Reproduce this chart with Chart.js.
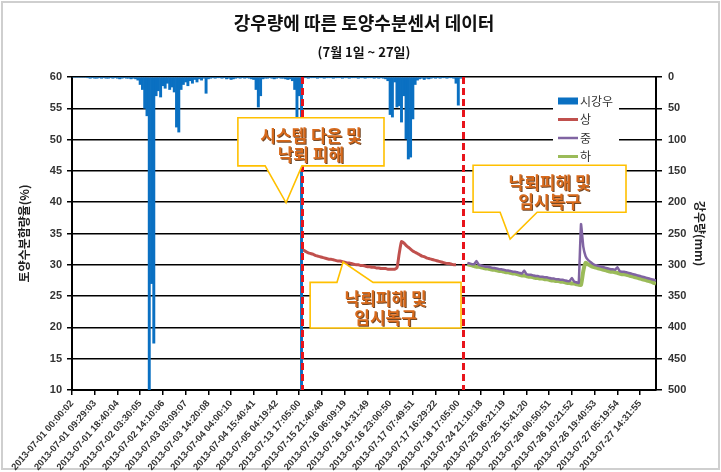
<!DOCTYPE html>
<html>
<head>
<meta charset="utf-8">
<title>강우량에 따른 토양수분센서 데이터</title>
<script src="https://cdn.jsdelivr.net/npm/chart.js@4"></script>
<style>
  html, body { margin: 0; padding: 0; background: #fff; }
  #wrap { width: 721px; height: 472px; }
</style>
</head>
<body>
<div id="wrap"><canvas id="chart" width="721" height="472"></canvas></div>
<script>
// x 축 라벨 (10 샘플마다 하나)
const tickLabels = [
  "2013-07-01 00:00:02", "2013-07-01 09:29:03", "2013-07-01 18:40:04", "2013-07-02 03:30:05",
  "2013-07-02 14:10:06", "2013-07-03 03:09:07", "2013-07-03 14:20:08", "2013-07-04 04:00:10",
  "2013-07-04 15:40:41", "2013-07-05 04:19:42", "2013-07-13 17:05:00", "2013-07-15 21:40:48",
  "2013-07-16 06:09:19", "2013-07-16 14:31:49", "2013-07-16 23:00:50", "2013-07-17 07:49:51",
  "2013-07-17 16:29:22", "2013-07-18 17:05:00", "2013-07-24 21:10:18", "2013-07-25 06:21:19",
  "2013-07-25 15:41:20", "2013-07-26 00:50:51", "2013-07-26 10:21:52", "2013-07-26 19:40:53",
  "2013-07-27 05:19:54", "2013-07-27 14:31:55"
];
const sampleCount = 257;

// 시강우 (mm), 샘플 0부터
const rainValues = [
  0, 0, 0, 0, 0, 0, 0,
  1, 2, 1, 2, 2, 1, 2, 1, 2, 2, 1, 2, 1, 2, 3, 2, 1, 2, 2, 3, 2, 3, 5,
  12, 20, 50, 62, 500, 330, 425, 30, 22, 32,
  14, 18, 10, 20, 16, 24, 80, 88, 20, 12,
  8, 14, 6, 10, 4, 8, 3, 5, 2, 26, 3,
  2, 1, 2, 1, 1, 2, 1, 3, 2, 4, 3, 2, 1, 2, 1, 2, 1, 2, 3, 4,
  20, 48, 30,
  3, 2, 2, 1, 2, 3, 2, 1, 2, 2, 3, 4, 3, 6,
  20, 64, 30,
  500, 1, 1, 2, 1, 1, 1, 2, 1, 1, 2, 1, 1, 1, 2, 1, 1, 1, 2, 1,
  1, 2, 1, 1, 1, 2, 1, 1, 2, 1, 1, 1, 2, 1, 2, 1, 2, 3,
  6, 60, 64, 8, 48, 46, 72, 30, 99, 131, 128, 67, 12, 5,
  3, 2, 4, 2, 3, 2, 1, 2, 1, 2, 1, 1, 2, 1, 1, 2,
  10, 45, 2, 0
];

// 상 (%)
const sangStart = 101;
const sangValues = [
  32.4, 32.3, 32.1, 31.9, 31.8, 31.7, 31.5, 31.4, 31.3, 31.2,
  31.1, 31.0, 30.9, 30.9, 30.8, 30.7, 30.6, 30.6, 30.5, 30.4,
  30.3, 30.3, 30.2, 30.1, 30.0, 30.0, 29.9, 29.9, 29.8, 29.7,
  29.7, 29.6, 29.6, 29.5, 29.5, 29.4, 29.4, 29.4, 29.3, 29.3,
  29.3, 29.3, 29.5, 31.8, 33.7, 33.5, 33.1, 32.8, 32.5, 32.2,
  32.0, 31.8, 31.6, 31.4, 31.3, 31.1, 31.0, 30.9, 30.8, 30.7,
  30.6, 30.5, 30.4, 30.3, 30.2, 30.2, 30.1, 30.0, 30.0
];

// 중 (%)
const jungStart = 174;
const jungValues = [
  30.3, 30.2, 30.1, 30.1, 30.6, 30.0, 29.9, 29.8, 29.7, 29.7,
  29.6, 29.5, 29.5, 29.4, 29.3, 29.3, 29.2, 29.1, 29.1, 29.0,
  28.9, 28.9, 28.8, 28.7, 28.6, 29.1, 28.5, 28.4, 28.4, 28.3,
  28.2, 28.2, 28.1, 28.1, 28.0, 28.0, 27.9, 27.8, 27.8, 27.7,
  27.7, 27.6, 27.6, 27.5, 27.4, 27.4, 27.9, 27.3, 27.2, 27.1,
  36.5, 32.9, 31.4, 30.8, 30.5, 30.2, 30.0, 29.9, 29.8, 29.7,
  29.6, 29.5, 29.4, 29.3, 29.3, 29.2, 29.6, 29.0, 28.9, 28.9,
  28.8, 28.7, 28.6, 28.5, 28.4, 28.3, 28.2, 28.1, 28.0, 27.9,
  27.8, 27.7, 27.6, 27.5
];

// 하 (%)
const haStart = 174;
const haValues = [
  30.1, 30.0, 29.9, 29.8, 29.7, 29.7, 29.6, 29.5, 29.4, 29.4,
  29.3, 29.2, 29.2, 29.1, 29.0, 29.0, 28.9, 28.8, 28.8, 28.7,
  28.6, 28.6, 28.5, 28.4, 28.3, 28.3, 28.2, 28.1, 28.1, 28.0,
  27.9, 27.9, 27.8, 27.8, 27.7, 27.7, 27.6, 27.5, 27.5, 27.4,
  27.4, 27.3, 27.3, 27.2, 27.1, 27.1, 27.0, 27.0, 26.9, 26.8,
  26.8, 29.0, 30.3, 30.1, 29.9, 29.7, 29.6, 29.5, 29.4, 29.3,
  29.2, 29.1, 29.0, 28.9, 28.9, 28.8, 28.7, 28.6, 28.5, 28.5,
  28.4, 28.3, 28.2, 28.1, 28.0, 27.9, 27.8, 27.7, 27.6, 27.5,
  27.4, 27.3, 27.1, 27.0
];

// 데이터 끊김 구간 (빨간 점선)
const eventIdx = [101, 172];

// 말풍선: box = [x 시작, x 끝, 위 %, 아래 %], tail = 밑변-끝점-밑변
const callouts = [
  { lines: ["시스템 다운 및", "낙뢰 피해"], box: [73, 137.3, 53.5, 45.8], tail: [[85, 45.8], [94.2, 39.9], [101.2, 45.8]] },
  { lines: ["낙뢰피해 및", "임시복구"], box: [104.8, 171.2, 27.2, 19.9], tail: [[116.6, 27.2], [119.3, 30.45], [132.5, 27.2]] },
  { lines: ["낙뢰피해 및", "임시복구"], box: [176.5, 243.8, 45.9, 38.4], tail: [[188.4, 38.4], [192.8, 34.1], [204.7, 38.4]] }
];

const KR = "'Noto Sans CJK KR', 'Noto Sans', sans-serif";
const NUM = "'Liberation Sans', Arial, sans-serif";

const toPoints = (start, values) => values.map((v, k) => ({ x: start + k, y: v }));

const framePlugin = {
  id: "frame",
  beforeDraw(chart) {
    const ctx = chart.ctx;
    ctx.save();
    ctx.fillStyle = "#fff";
    ctx.fillRect(0, 0, chart.width, chart.height);
    ctx.strokeStyle = "#cfcfcf";
    ctx.lineWidth = 2;
    ctx.strokeRect(2, 2, chart.width - 4, chart.height - 5);
    ctx.restore();
  },
  afterDraw(chart) {
    const ctx = chart.ctx;
    const a = chart.chartArea;
    const cx = (a.left + a.right) / 2;
    ctx.save();
    ctx.fillStyle = "#111";
    ctx.textAlign = "center";
    ctx.textBaseline = "middle";
    ctx.font = "bold 18px " + KR;
    ctx.fillText("강우량에 따른 토양수분센서 데이터", cx, 23);
    ctx.font = "bold 13px " + KR;
    ctx.fillText("(7월 1일 ~ 27일)", cx, 52);
    ctx.restore();
  }
};

const annotatePlugin = {
  id: "annotate",
  afterDatasetsDraw(chart) {
    const ctx = chart.ctx;
    const xs = chart.scales.x, ys = chart.scales.y;
    const a = chart.chartArea;

    // 빨간 점선
    ctx.save();
    ctx.strokeStyle = "#e8141b";
    ctx.lineWidth = 3;
    ctx.setLineDash([7, 4]);
    eventIdx.forEach(i => {
      const px = Math.round(xs.getPixelForValue(i)) + 0.5;
      ctx.beginPath();
      ctx.moveTo(px, a.top);
      ctx.lineTo(px, a.bottom);
      ctx.stroke();
    });
    ctx.restore();

    // 범례
    const lx = a.right - 103, ly = a.top + 13;
    ctx.save();
    ctx.fillStyle = "#fff";
    ctx.fillRect(lx, ly, 66, 76);
    ctx.font = "12px " + KR;
    ctx.textBaseline = "middle";
    chart.data.datasets.forEach((ds, k) => {
      const y = ly + 11 + k * 18.5;
      if (ds.type === "line") {
        ctx.strokeStyle = ds.borderColor;
        ctx.lineWidth = Math.min(ds.borderWidth, 3);
        ctx.beginPath();
        ctx.moveTo(lx + 5, y);
        ctx.lineTo(lx + 25, y);
        ctx.stroke();
      } else {
        ctx.fillStyle = ds.backgroundColor;
        ctx.fillRect(lx + 5, y - 3.5, 20, 7);
      }
      ctx.fillStyle = "#333";
      ctx.fillText(ds.label, lx + 27, y);
    });
    ctx.restore();

    // 말풍선
    callouts.forEach(c => {
      const x0 = xs.getPixelForValue(c.box[0]), x1 = xs.getPixelForValue(c.box[1]);
      const y0 = ys.getPixelForValue(c.box[2]), y1 = ys.getPixelForValue(c.box[3]);
      const t = c.tail.map(p => [xs.getPixelForValue(p[0]), ys.getPixelForValue(p[1])]);
      const tipAbove = t[1][1] < y0;
      ctx.save();
      ctx.beginPath();
      ctx.moveTo(x0, y0);
      if (tipAbove) {
        ctx.lineTo(t[0][0], y0);
        ctx.lineTo(t[1][0], t[1][1]);
        ctx.lineTo(t[2][0], y0);
      }
      ctx.lineTo(x1, y0);
      ctx.lineTo(x1, y1);
      if (!tipAbove) {
        ctx.lineTo(t[2][0], y1);
        ctx.lineTo(t[1][0], t[1][1]);
        ctx.lineTo(t[0][0], y1);
      }
      ctx.lineTo(x0, y1);
      ctx.closePath();
      ctx.fillStyle = "#fff";
      ctx.fill();
      ctx.strokeStyle = "#ffc000";
      ctx.lineWidth = 1.6;
      ctx.stroke();

      const cx = (x0 + x1) / 2, cy = (y0 + y1) / 2 + 3;
      ctx.font = "bold 17px " + KR;
      ctx.textAlign = "center";
      ctx.textBaseline = "middle";
      ctx.shadowColor = "rgba(90, 40, 0, 0.85)";
      ctx.shadowOffsetX = 1;
      ctx.shadowOffsetY = 1;
      ctx.fillStyle = "#d86a1c";
      ctx.fillText(c.lines[0], cx, cy - 9.5);
      ctx.fillText(c.lines[1], cx, cy + 9.5);
      ctx.restore();
    });
  }
};

new Chart(document.getElementById("chart"), {
  type: "bar",
  data: {
    datasets: [
      {
        type: "bar",
        label: "시강우",
        data: toPoints(0, rainValues),
        yAxisID: "yRain",
        backgroundColor: "#0a70c2",
        borderWidth: 0,
        barPercentage: 1,
        categoryPercentage: 1
      },
      {
        type: "line",
        label: "상",
        data: toPoints(sangStart, sangValues),
        yAxisID: "y",
        borderColor: "#c0504d",
        borderWidth: 3,
        pointRadius: 0,
        tension: 0.2,
        fill: false
      },
      {
        type: "line",
        label: "중",
        data: toPoints(jungStart, jungValues),
        yAxisID: "y",
        borderColor: "#8064a2",
        borderWidth: 2.5,
        pointRadius: 0,
        tension: 0.1,
        fill: false
      },
      {
        type: "line",
        label: "하",
        data: toPoints(haStart, haValues),
        yAxisID: "y",
        borderColor: "#9bbb59",
        borderWidth: 4,
        pointRadius: 0,
        tension: 0.2,
        fill: false
      }
    ]
  },
  options: {
    responsive: false,
    animation: false,
    devicePixelRatio: 1,
    events: [],
    layout: { padding: { top: 77, left: 0, right: 0, bottom: 0 } },
    plugins: {
      legend: { display: false },
      tooltip: { enabled: false },
      title: { display: false }
    },
    scales: {
      x: {
        type: "linear",
        min: 0,
        max: sampleCount,
        offset: false,
        afterBuildTicks: s => { s.ticks = tickLabels.map((_, i) => ({ value: i * 10 })); },
        afterFit: s => { s.height = 82; },
        ticks: {
          autoSkip: false,
          minRotation: 49,
          maxRotation: 49,
          padding: 3,
          color: "#333",
          font: { family: NUM, size: 9.5, weight: "bold" },
          callback: v => tickLabels[Math.round(v / 10)]
        },
        grid: { drawOnChartArea: false, drawTicks: true, tickLength: 5, color: "#000", lineWidth: 1.5, offset: false },
        border: { color: "#000", width: 2 }
      },
      y: {
        position: "left",
        min: 10,
        max: 60,
        afterFit: s => { s.width = 72; },
        ticks: {
          stepSize: 5,
          padding: 5,
          color: "#333",
          font: { family: NUM, size: 11, weight: "bold" }
        },
        grid: { color: "#000", lineWidth: 1.5, tickLength: 5 },
        border: { color: "#000", width: 2 },
        title: {
          display: true,
          text: "토양수분함량율(%)",
          color: "#222",
          font: { family: KR, size: 12, weight: "bold" },
          padding: { top: 17, bottom: 0 }
        }
      },
      yRain: {
        position: "right",
        reverse: true,
        min: 0,
        max: 500,
        afterFit: s => { s.width = 65; },
        ticks: {
          stepSize: 50,
          padding: 6,
          color: "#333",
          font: { family: NUM, size: 11, weight: "bold" }
        },
        grid: { drawOnChartArea: false, color: "#000", lineWidth: 1.5, tickLength: 6 },
        border: { color: "#000", width: 2 },
        title: {
          display: true,
          text: "강우량(mm)",
          color: "#222",
          font: { family: KR, size: 12, weight: "bold" },
          padding: { top: 14, bottom: 0 }
        }
      }
    }
  },
  plugins: [framePlugin, annotatePlugin]
});
</script>
</body>
</html>
